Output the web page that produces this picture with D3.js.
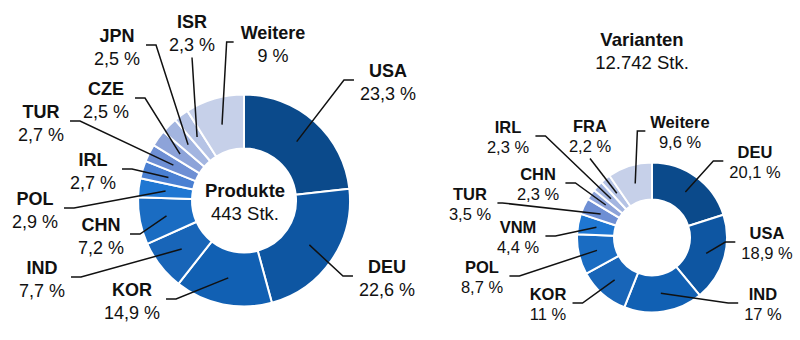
<!DOCTYPE html>
<html>
<head>
<meta charset="utf-8">
<script src="https://cdn.jsdelivr.net/npm/d3@7"></script>
<style>
  html, body { margin: 0; padding: 0; background: #fff; }
  svg { display: block; font-family: "Liberation Sans", Arial, sans-serif; }
</style>
</head>
<body>
<svg id="chart" width="800" height="340"></svg>
<script>
// Anteile nach Land (in %), im Uhrzeigersinn ab 12 Uhr
const produkteLaender = ["USA", "DEU", "KOR", "IND", "CHN", "POL", "IRL", "TUR", "CZE", "JPN", "ISR", "Weitere"];
const produkteAnteile = [23.3, 22.6, 14.9, 7.7, 7.2, 2.9, 2.7, 2.7, 2.5, 2.5, 2.3, 9];
const produkteTitel = ["Produkte", "443 Stk."];

const variantenLaender = ["DEU", "USA", "IND", "KOR", "POL", "VNM", "TUR", "CHN", "IRL", "FRA", "Weitere"];
const variantenAnteile = [20.1, 18.9, 17, 11, 8.7, 4.4, 3.5, 2.3, 2.3, 2.2, 9.6];
const variantenTitel = ["Varianten", "12.742 Stk."];

// Farbverlauf von dunkel (größter Anteil) bis hell (Weitere)
const paletteProdukte = ["#0b4a8b", "#0e56a2", "#1160b3", "#1865b8", "#1a6cc2", "#1f77d2",
                         "#4a80d2", "#6e8fd4", "#8da3d9", "#a3b5e0", "#b5c3e5", "#c6d0e9"];
const paletteVarianten = ["#0b4a8b", "#0e56a2", "#1160b3", "#1865b8", "#1a6cc2", "#1f77d2",
                          "#6e8fd4", "#8da3d9", "#a3b5e0", "#b5c3e5", "#c6d0e9"];

// Beschriftungsplatzierung: Mitte x, Grundlinie des Ländernamens, Seite der Führungslinie
const layoutProdukte = [
  { x: 388, y: 77,  side: "left" },
  { x: 387, y: 273, side: "left" },
  { x: 132, y: 296, side: "right" },
  { x: 42,  y: 274, side: "right" },
  { x: 101, y: 231, side: "right" },
  { x: 35,  y: 205, side: "right" },
  { x: 93,  y: 166, side: "right" },
  { x: 41,  y: 118, side: "right" },
  { x: 106, y: 95,  side: "right" },
  { x: 117, y: 42,  side: "right" },
  { x: 192, y: 28,  side: "below" },
  { x: 273, y: 39,  side: "left", gap: 7, len: 7 }
];
const layoutVarianten = [
  { x: 755, y: 158, side: "left" },
  { x: 767, y: 239, side: "left" },
  { x: 763, y: 300, side: "left" },
  { x: 548, y: 300, side: "right" },
  { x: 482, y: 273, side: "right" },
  { x: 518, y: 233, side: "right" },
  { x: 470, y: 200, side: "right", len: 5 },
  { x: 538, y: 180, side: "right" },
  { x: 508, y: 133, side: "right" },
  { x: 590, y: 132, side: "below" },
  { x: 680, y: 128, side: "left", gap: 5, len: 8 }
];

const fmt = v => String(v).replace(".", ",") + "\u00a0%";
const svg = d3.select("#chart");

function donut(cfg) {
  const g = svg.append("g");
  const pie = d3.pie().sort(null).value(d => d.v)(cfg.names.map((n, i) => ({ n, v: cfg.values[i], i })));
  const arc = d3.arc().innerRadius(cfg.inner).outerRadius(cfg.outer);
  const mid = d3.arc().innerRadius((cfg.inner + cfg.outer) / 2).outerRadius((cfg.inner + cfg.outer) / 2);

  const ring = g.append("g").attr("transform", `translate(${cfg.cx},${cfg.cy})`);
  ring.selectAll("path").data(pie).join("path")
    .attr("d", arc)
    .attr("fill", d => cfg.colors[d.index])
    .attr("stroke", "#fff")
    .attr("stroke-width", 2)
    .attr("stroke-linejoin", "round");

  const lines = g.append("g");
  const labels = g.append("g");

  pie.forEach((d, i) => {
    const L = cfg.layout[i];
    const t = labels.append("g");
    t.append("text").attr("x", L.x).attr("y", L.y).attr("text-anchor", "middle")
      .attr("font-size", cfg.fs).attr("font-weight", "bold").attr("fill", "#111")
      .text(d.data.n);
    t.append("text").attr("x", L.x).attr("y", L.y + cfg.lh).attr("text-anchor", "middle")
      .attr("font-size", cfg.fs).attr("fill", "#111")
      .text(fmt(d.data.v));
    const bb = t.node().getBBox();
    const c = mid.centroid(d);
    const px = cfg.cx + c[0], py = cfg.cy + c[1];
    const gap = L.gap ?? 6, len = L.len ?? 10;
    let pts;
    if (L.side === "left") {
      const x0 = bb.x - gap, yy = L.y + 3;
      pts = [[x0, yy], [x0 - len, yy], [px, py]];
    } else if (L.side === "right") {
      const x0 = bb.x + bb.width + gap, yy = L.y + 3;
      pts = [[x0, yy], [x0 + len, yy], [px, py]];
    } else {
      pts = [[L.x, L.y + cfg.lh + 7], [px, py]];
    }
    lines.append("path").attr("d", d3.line()(pts))
      .attr("fill", "none").attr("stroke", "#111").attr("stroke-width", 1.5);
  });

  g.append("text").attr("x", cfg.tx).attr("y", cfg.ty).attr("text-anchor", "middle")
    .attr("font-size", cfg.tfs).attr("font-weight", "bold").attr("fill", "#111").text(cfg.title[0]);
  g.append("text").attr("x", cfg.tx).attr("y", cfg.ty + 23).attr("text-anchor", "middle")
    .attr("font-size", cfg.tfs).attr("fill", "#111").text(cfg.title[1]);
}

donut({
  names: produkteLaender, values: produkteAnteile, colors: paletteProdukte, layout: layoutProdukte,
  cx: 244, cy: 200.5, inner: 52, outer: 106, fs: 18, lh: 22.5,
  title: produkteTitel, tx: 245, ty: 197, tfs: 18.5
});
donut({
  names: variantenLaender, values: variantenAnteile, colors: paletteVarianten, layout: layoutVarianten,
  cx: 652, cy: 237.5, inner: 38, outer: 75, fs: 16.5, lh: 19.5,
  title: variantenTitel, tx: 642, ty: 46, tfs: 18.5
});
</script>
</body>
</html>
